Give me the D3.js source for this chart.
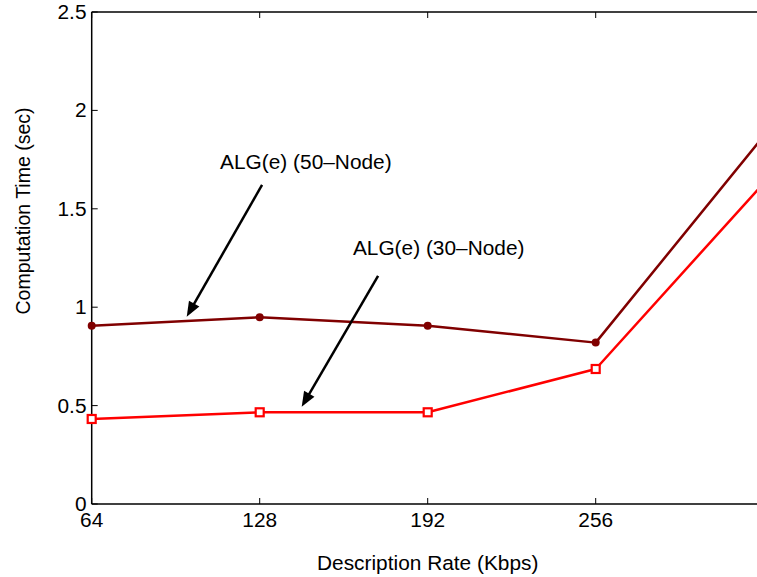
<!DOCTYPE html>
<html>
<head>
<meta charset="utf-8">
<script src="https://cdn.jsdelivr.net/npm/d3@7"></script>
<style>
  html, body { margin: 0; padding: 0; background: #fff; }
  svg text { font-family: "Liberation Sans", Arial, Helvetica, sans-serif; fill: #000; }
</style>
</head>
<body>
<svg id="chart" width="757" height="577"></svg>
<script>
// Description rates (Kbps) on the x axis
const rates = [64, 128, 192, 256, 320];
// Computation time (sec) for each network size
const node50 = [0.906, 0.949, 0.906, 0.820, 1.870];
const node30 = [0.432, 0.466, 0.466, 0.686, 1.630];
// Tick labels
const xTicks = [64, 128, 192, 256];
const yTicks = [0, 0.5, 1, 1.5, 2, 2.5];
const yTickLabels = ["0", "0.5", "1", "1.5", "2", "2.5"];
// Annotations: label anchor and arrow (start -> tip) in data units
const notes = [
  { text: "ALG(e) (50\u2013Node)", lx: 112.9, ly: 1.70, from: [128.9, 1.621], to: [100.2, 0.952] },
  { text: "ALG(e) (30\u2013Node)", lx: 163.5, ly: 1.265, from: [173.1, 1.159], to: [144.0, 0.494] }
];

const FS = 19.5;      // font size in px
const SX = 1.07;      // horizontal glyph stretch

const svg = d3.select("#chart");
const x = d3.scaleLinear().domain([64, 320]).range([91.7, 763.7]);
const y = d3.scaleLinear().domain([0, 2.5]).range([504, 12]);

// Box lines
const box = svg.append("g").attr("stroke", "#000").attr("stroke-width", 1.5).attr("fill", "none");
box.append("line").attr("x1", x(64)).attr("x2", x(320)).attr("y1", y(0)).attr("y2", y(0));
box.append("line").attr("x1", x(64)).attr("x2", x(320)).attr("y1", y(2.5)).attr("y2", y(2.5));
box.append("line").attr("x1", x(64)).attr("x2", x(64)).attr("y1", y(0)).attr("y2", y(2.5));

// Inward ticks on bottom, top and left
const tickLen = 6;
const ticks = svg.append("g").attr("stroke", "#000").attr("stroke-width", 1);
xTicks.forEach(v => {
  ticks.append("line").attr("x1", x(v)).attr("x2", x(v)).attr("y1", y(0)).attr("y2", y(0) - tickLen);
  ticks.append("line").attr("x1", x(v)).attr("x2", x(v)).attr("y1", y(2.5)).attr("y2", y(2.5) + tickLen);
});
yTicks.forEach(v => {
  ticks.append("line").attr("x1", x(64)).attr("x2", x(64) + tickLen).attr("y1", y(v)).attr("y2", y(v));
});

// Text helper with horizontal stretch
function label(px, py, str, anchor, rot) {
  const g = svg.append("g").attr("transform",
    `translate(${px},${py}) scale(${SX},1)` + (rot ? ` rotate(${rot})` : ""));
  g.append("text").attr("text-anchor", anchor).attr("font-size", FS).text(str);
}

// Tick labels
xTicks.forEach(v => label(x(v), 527, String(v), "middle"));
yTicks.forEach((v, i) => label(86.5, y(v) + 7, yTickLabels[i], "end"));

// Axis titles
label(427.7, 570, "Description Rate (Kbps)", "middle");
label(29.5, 211, "Computation Time (sec)", "middle", -90);

// Data lines
const line = d3.line().x((d, i) => x(rates[i])).y(d => y(d));
svg.append("path").datum(node50).attr("d", line)
  .attr("fill", "none").attr("stroke", "#800000").attr("stroke-width", 2.5).attr("stroke-linejoin", "round");
svg.append("path").datum(node30).attr("d", line)
  .attr("fill", "none").attr("stroke", "#ff0000").attr("stroke-width", 2.5).attr("stroke-linejoin", "round");

// Markers
svg.append("g").selectAll("circle").data(node50).join("circle")
  .attr("cx", (d, i) => x(rates[i])).attr("cy", d => y(d)).attr("r", 4)
  .attr("fill", "#800000");
svg.append("g").selectAll("rect").data(node30).join("rect")
  .attr("x", (d, i) => x(rates[i]) - 4).attr("y", d => y(d) - 4)
  .attr("width", 8).attr("height", 8)
  .attr("fill", "#fff").attr("stroke", "#ff0000").attr("stroke-width", 2.2);

// Annotation arrows and labels
const head = 15, halfW = 6;
notes.forEach(n => {
  const x0 = x(n.from[0]), y0 = y(n.from[1]);
  const x1 = x(n.to[0]), y1 = y(n.to[1]);
  const dx = x1 - x0, dy = y1 - y0, len = Math.hypot(dx, dy);
  const ux = dx / len, uy = dy / len;
  const bx = x1 - ux * head, by = y1 - uy * head;
  svg.append("line").attr("x1", x0).attr("y1", y0).attr("x2", bx + ux * 2).attr("y2", by + uy * 2)
    .attr("stroke", "#000").attr("stroke-width", 2.5);
  svg.append("path")
    .attr("d", `M${x1},${y1}L${bx - uy * halfW},${by + ux * halfW}L${bx + uy * halfW},${by - ux * halfW}Z`)
    .attr("fill", "#000");
  label(x(n.lx), y(n.ly), n.text, "start");
});
</script>
</body>
</html>
